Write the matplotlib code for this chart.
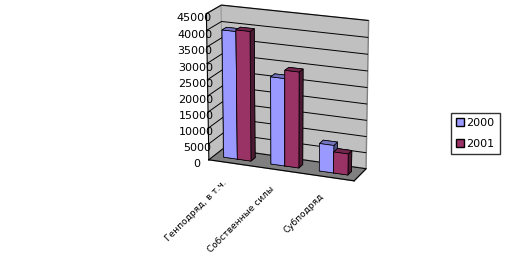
import matplotlib.pyplot as plt
import matplotlib.transforms as mtransforms
import numpy as np
from matplotlib.patches import Patch
from mpl_toolkits.mplot3d import proj3d

# данные
categories = ["Генподряд, в т.ч.", "Собственные силы", "Субподряд"]
series_names = ["2000", "2001"]
values_2000 = [39500, 27000, 8500]
values_2001 = [40000, 29500, 6500]
colors = ["#9999FF", "#993366"]
# грани: -z, +z, -y (перед), +y, -x, +x (бок)
face_colors = [
    ["#4D4D80", "#7373BF", "#9999FF", "#4D4D80", "#4D4D80", "#4D4D80"],
    ["#4D1A33", "#73264D", "#993366", "#4D1A33", "#4D1A33", "#4D1A33"],
]

fig = plt.figure(figsize=(5.1, 2.67), dpi=100)
ax = fig.add_axes([0.275, 0.117, 0.56, 1.05], projection="3d")

x = np.arange(len(categories))
bw = 0.29
depth = 0.3
for i, vals in enumerate([values_2000, values_2001]):
    ax.bar3d(x - bw + i * bw, 0.35, 0, bw, depth, vals,
             color=face_colors[i] * len(x), edgecolor="black",
             linewidth=0.5, shade=False)

ax.set_xlim(-0.5, 2.5)
ax.set_ylim(0, 1)
ax.set_zlim(0, 45000)
ax.set_zticks(np.arange(0, 45001, 5000))
ax.set_xticks([])
ax.set_yticks([])
ax.zaxis.set_ticks_position("lower")
ax.tick_params(axis="z", labelsize=8, pad=0)

# стены
for axis in (ax.xaxis, ax.yaxis):
    axis.pane.set_facecolor("#C0C0C0")
    axis.pane.set_alpha(1)
    axis.pane.set_edgecolor("#808080")
ax.zaxis.pane.set_facecolor("#808080")
ax.zaxis.pane.set_alpha(1)
ax.zaxis.pane.set_edgecolor("#808080")
for axis in (ax.xaxis, ax.yaxis, ax.zaxis):
    axis._axinfo["grid"]["color"] = "black"
    axis._axinfo["grid"]["linewidth"] = 0.7
    axis.line.set_color("black")

ax.view_init(elev=18, azim=-68)
ax.set_box_aspect((158, 36, 155), zoom=0.775)

# подписи категорий
fig.canvas.draw()
shift = mtransforms.ScaledTranslation(-15 / 100, -14 / 100, fig.dpi_scale_trans)
for xi, lab in zip(x, categories):
    px, py, _ = proj3d.proj_transform(xi + 0.1, 0, 0, ax.get_proj())
    ax.text2D(px, py, lab, transform=ax.transData + shift, fontsize=6.5,
              rotation=45, ha="right", va="top", rotation_mode="anchor")

handles = [Patch(facecolor=c, edgecolor="black") for c in colors]
fig.legend(handles, series_names, loc="upper left", bbox_to_anchor=(451 / 510, 1 - 113 / 267),
           fontsize=8, frameon=True, fancybox=False, edgecolor="black",
           handlelength=0.7, handleheight=0.7, handletextpad=0.25,
           borderpad=0.45, labelspacing=1.0, borderaxespad=0)

fig.savefig("out.png", dpi=100)
